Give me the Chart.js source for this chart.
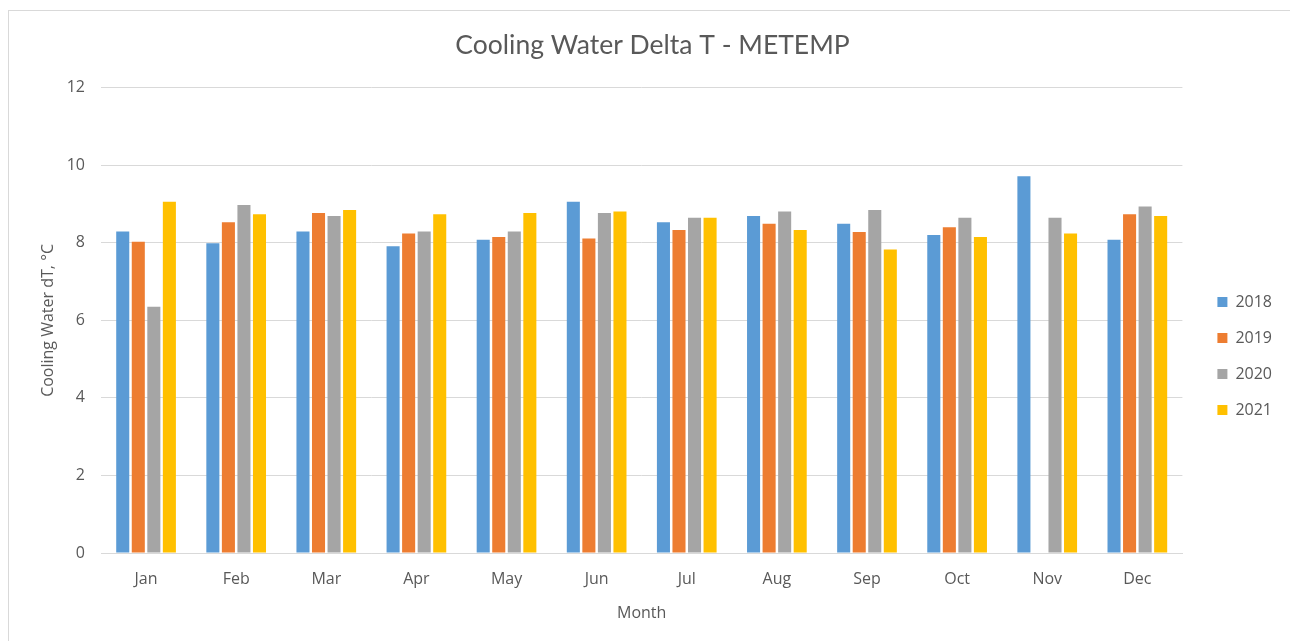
<!DOCTYPE html>
<html>
<head>
<meta charset="utf-8">
<script src="https://cdn.jsdelivr.net/npm/chart.js@4/dist/chart.umd.min.js"></script>
<style>
  html, body { margin: 0; padding: 0; background: #ffffff; }
  #wrap { position: absolute; left: 8px; top: 10px; width: 1290px; height: 640px; border: 1px solid #d9d9d9; box-sizing: border-box; background: #fff; }
  #box { position: absolute; left: 0; top: 0; width: 1281px; height: 630px; }
</style>
</head>
<body>
<div id="wrap"><div id="box"><canvas id="c"></canvas></div></div>
<script>
const categories = ['Jan','Feb','Mar','Apr','May','Jun','Jul','Aug','Sep','Oct','Nov','Dec'];
const values2018 = [8.29, 7.99, 8.29, 7.91, 8.08, 9.06, 8.53, 8.69, 8.49, 8.20, 9.72, 8.08];
const values2019 = [8.03, 8.53, 8.77, 8.24, 8.15, 8.11, 8.33, 8.49, 8.28, 8.40, null, 8.74];
const values2020 = [6.35, 8.98, 8.69, 8.29, 8.29, 8.77, 8.65, 8.81, 8.85, 8.65, 8.65, 8.94];
const values2021 = [9.06, 8.74, 8.85, 8.74, 8.77, 8.81, 8.65, 8.33, 7.83, 8.15, 8.24, 8.69];
const seriesNames = ['2018','2019','2020','2021'];
const yTicks = [0, 2, 4, 6, 8, 10, 12];

const colors = ['#5b9bd5', '#ed7d31', '#a5a5a5', '#ffc000'];
const allValues = [values2018, values2019, values2020, values2021];
const TITLE_FONT = 'Lato, "Open Sans", sans-serif';
const FONT = '"Open Sans", Lato, sans-serif';
const TXT = '#595959';

new Chart(document.getElementById('c'), {
  type: 'bar',
  data: {
    labels: categories,
    datasets: seriesNames.map((n, i) => ({
      label: n,
      data: allValues[i],
      backgroundColor: colors[i],
      borderWidth: 0,
      categoryPercentage: 0.69,
      barPercentage: 0.84,
      yAxisID: 'y'
    }))
  },
  options: {
    responsive: true,
    maintainAspectRatio: false,
    animation: false,
    layout: { padding: { left: 14, right: 8, top: 0, bottom: 0 } },
    plugins: {
      title: {
        display: true,
        text: 'Cooling Water Delta T - METEMP',
        color: TXT,
        font: { family: TITLE_FONT, size: 26.5, weight: 'normal' },
        padding: { top: 18.5, bottom: 26.5 }
      },
      legend: {
        position: 'right',
        title: { display: true, text: '', font: { size: 10, lineHeight: 1 }, padding: { top: 0, bottom: 50 } },
        labels: {
          color: TXT,
          font: { family: FONT, size: 16 },
          boxWidth: 10,
          boxHeight: 10,
          padding: 20
        }
      },
      tooltip: { enabled: false }
    },
    scales: {
      x: {
        grid: { display: false, drawTicks: false },
        border: { display: true, color: '#d9d9d9', width: 1 },
        ticks: { color: TXT, font: { family: FONT, size: 16 }, padding: 17 },
        title: { display: true, text: 'Month', color: TXT, font: { family: FONT, size: 16 }, padding: { top: 0, bottom: 18 } },
        afterFit: s => { s.height = 88; }
      },
      y: {
        min: 0,
        max: 12,
        afterBuildTicks: s => { s.ticks = yTicks.map(v => ({ value: v })); },
        grid: { color: '#d9d9d9', drawTicks: false },
        border: { display: false },
        ticks: { color: TXT, font: { family: FONT, size: 16 }, padding: 16 },
        title: { display: true, text: 'Cooling Water dT, °C', color: TXT, font: { family: FONT, size: 16 }, padding: { top: 16, bottom: 0 } },
        afterFit: s => { s.width = 78; }
      },
      gap: {
        type: 'linear',
        position: 'right',
        display: true,
        grid: { display: false, drawTicks: false },
        border: { display: false },
        ticks: { display: false },
        afterFit: s => { s.width = 15; }
      }
    }
  }
});
</script>
</body>
</html>
